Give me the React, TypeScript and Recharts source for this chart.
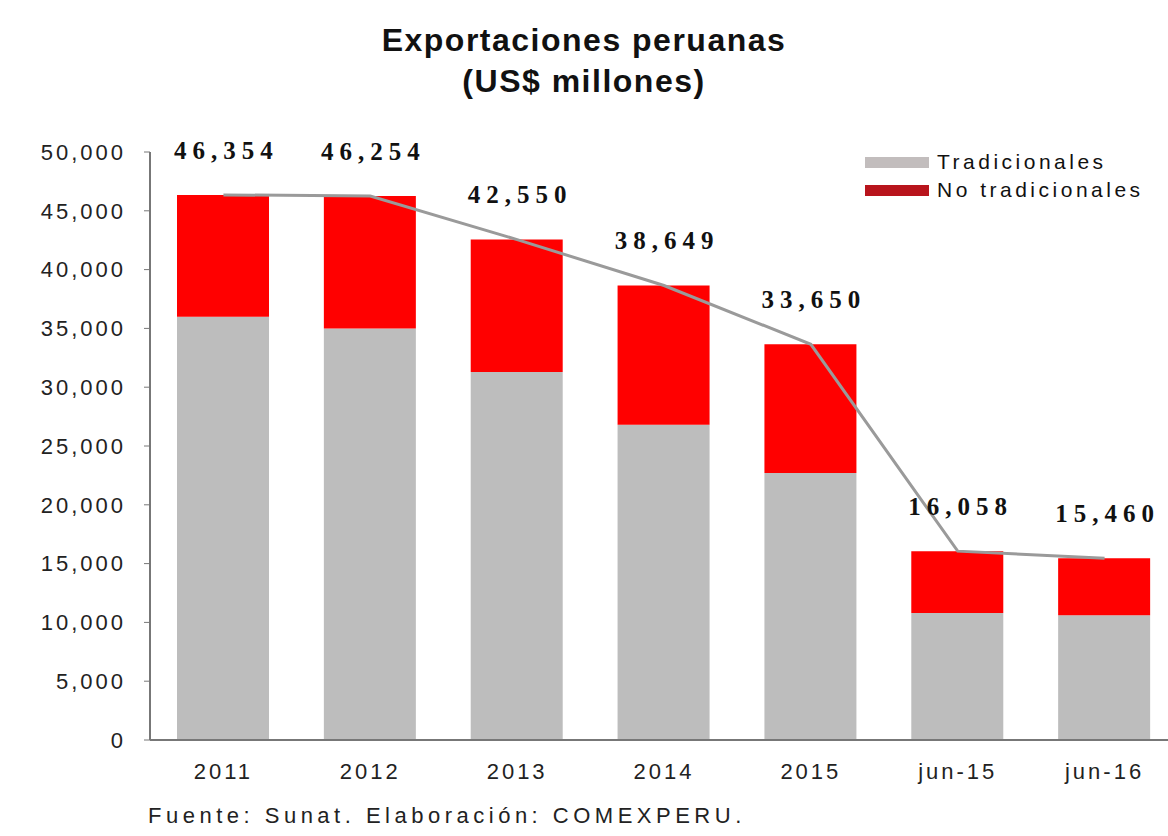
import {
  ComposedChart,
  Bar,
  Line,
  XAxis,
  YAxis,
  LabelList,
} from "recharts";

const CATEGORIES = ["2011", "2012", "2013", "2014", "2015", "jun-15", "jun-16"];
const TOTALS = [46354, 46254, 42550, 38649, 33650, 16058, 15460];
const TRADICIONALES = [36000, 35000, 31300, 26800, 22700, 10800, 10600];
const NO_TRADICIONALES = [10354, 11254, 11250, 11849, 10950, 5258, 4860];
const Y_TICKS = [0, 5000, 10000, 15000, 20000, 25000, 30000, 35000, 40000, 45000, 50000];

const GREY = "#bdbdbd";
const RED = "#ff0000";
const LINE_GREY = "#9a9a9a";

const chartData = CATEGORIES.map((c, i) => ({
  name: c,
  trad: TRADICIONALES[i],
  noTrad: NO_TRADICIONALES[i],
  total: TOTALS[i],
}));

const fmt = (v: number) => v.toLocaleString("en-US");

const TotalLabel = (props: any) => {
  const { x, y, value } = props;
  return (
    <text
      x={x + 3}
      y={y - 42}
      textAnchor="middle"
      dominantBaseline="middle"
      fontFamily="Liberation Serif, serif"
      fontWeight="bold"
      fontSize={25}
      letterSpacing={6}
      fill="#111"
    >
      {fmt(value)}
    </text>
  );
};

const sans = "Liberation Sans, Arial, sans-serif";

export default function App() {
  return (
    <div
      style={{
        position: "absolute",
        left: 0,
        top: 0,
        width: 1168,
        height: 836,
        overflow: "hidden",
        background: "#fff",
        fontFamily: sans,
      }}
    >
      <div
        style={{
          position: "absolute",
          left: 0,
          width: 1168,
          top: 20,
          textAlign: "center",
          fontWeight: "bold",
          fontSize: 32,
          lineHeight: "41px",
          letterSpacing: 1.5,
          color: "#111",
        }}
      >
        Exportaciones peruanas
        <br />
        (US$ millones)
      </div>

      <ComposedChart
        width={1180}
        height={836}
        data={chartData}
        margin={{ top: 152, right: 2, bottom: 56, left: 30 }}
        barSize={92}
      >
        <XAxis
          dataKey="name"
          tickLine={false}
          axisLine={{ stroke: "#777", strokeWidth: 2 }}
          height={40}
          tick={{ fontSize: 22, letterSpacing: 3, fill: "#222", fontFamily: sans, dy: 15 } as any}
        />
        <YAxis
          domain={[0, 50000]}
          ticks={Y_TICKS}
          interval={0}
          width={120}
          tickFormatter={fmt}
          axisLine={{ stroke: "#777", strokeWidth: 2 }}
          tickLine={{ stroke: "#777" }}
          tickSize={6}
          tick={{ fontSize: 22, letterSpacing: 3, fill: "#222", fontFamily: sans, dx: -16 } as any}
        />
        <Bar dataKey="trad" stackId="a" fill={GREY} isAnimationActive={false} />
        <Bar dataKey="noTrad" stackId="a" fill={RED} isAnimationActive={false} />
        <Line
          dataKey="total"
          stroke={LINE_GREY}
          strokeWidth={3}
          dot={false}
          activeDot={false}
          isAnimationActive={false}
        >
          <LabelList dataKey="total" content={TotalLabel} />
        </Line>
      </ComposedChart>

      <div style={{ position: "absolute", left: 865, top: 148, fontSize: 21, letterSpacing: 3.5, color: "#111" }}>
        <div style={{ display: "flex", alignItems: "center", height: 28 }}>
          <span style={{ display: "inline-block", width: 64, height: 11, background: "#c2bdbd", marginRight: 8 }} />
          <span style={{ whiteSpace: "nowrap" }}>Tradicionales</span>
        </div>
        <div style={{ display: "flex", alignItems: "center", height: 28 }}>
          <span style={{ display: "inline-block", width: 64, height: 11, background: "#b8141c", marginRight: 8 }} />
          <span style={{ whiteSpace: "nowrap" }}>No tradicionales</span>
        </div>
      </div>

      <div
        style={{
          position: "absolute",
          left: 148,
          top: 803,
          fontSize: 22,
          letterSpacing: 4.5,
          color: "#222",
          whiteSpace: "nowrap",
        }}
      >
        Fuente: Sunat. Elaboración: COMEXPERU.
      </div>
    </div>
  );
}
